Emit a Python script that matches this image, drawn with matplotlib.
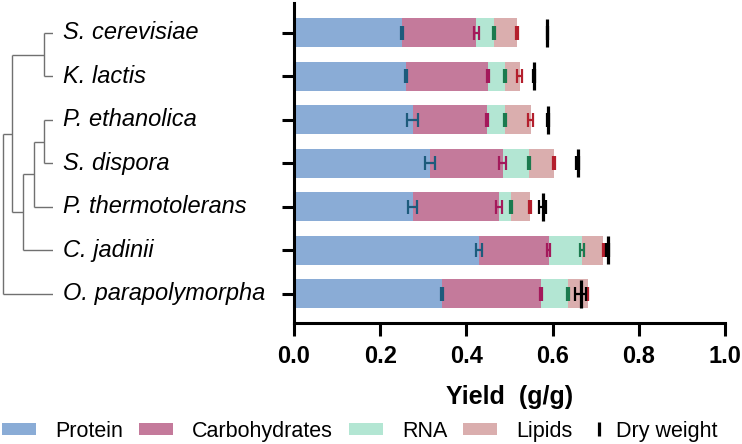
import matplotlib
matplotlib.use("Agg")
import matplotlib.pyplot as plt
import matplotlib.transforms as mtransforms
from matplotlib.patches import Patch
from matplotlib.lines import Line2D
import numpy as np

plt.rcParams['font.family'] = ['Liberation Sans', 'DejaVu Sans']

# ---------------- data ----------------
species = ["S. cerevisiae", "K. lactis", "P. ethanolica", "S. dispora",
           "P. thermotolerans", "C. jadinii", "O. parapolymorpha"]
protein = [0.251, 0.260, 0.275, 0.316, 0.275, 0.429, 0.343]
carbs   = [0.172, 0.190, 0.173, 0.168, 0.201, 0.162, 0.230]
rna     = [0.041, 0.040, 0.041, 0.062, 0.027, 0.077, 0.062]
lipids  = [0.053, 0.034, 0.060, 0.058, 0.045, 0.050, 0.046]
dry_weight = [0.588, 0.557, 0.590, 0.658, 0.577, 0.728, 0.665]

protein_err = [0.002, 0.002, 0.013, 0.012, 0.010, 0.007, 0.002]
carbs_err   = [0.006, 0.002, 0.002, 0.008, 0.0065, 0.003, 0.002]
rna_err     = [0.002, 0.002, 0.002, 0.002, 0.002, 0.004, 0.002]
lipids_err  = [0.002, 0.006, 0.005, 0.002, 0.002, 0.002, 0.002]
dry_err     = [0.002, 0.003, 0.002, 0.003, 0.008, 0.004, 0.013]

# dendrogram merges: (child a, child b, height); leaves 0..6, new clusters 7..
merges = [(0, 1, 0.17), (2, 3, 0.17), (8, 4, 0.36), (9, 5, 0.57),
          (7, 10, 0.77), (11, 6, 0.95)]

components = ["Protein", "Carbohydrates", "RNA", "Lipids"]
colors = ["#8AACD6", "#C47A9B", "#B3E6D3", "#DAAEAE"]
err_colors = ["#1D5B7C", "#A3195B", "#1B7A4E", "#B41F2D"]

# ---------------- figure ----------------
W, H = 742, 444
fig = plt.figure(figsize=(W / 100, H / 100), dpi=100)

ax_l, ax_r, ax_t, ax_b = 294, 725, 3, 323
ax = fig.add_axes([ax_l / W, 1 - ax_b / H, (ax_r - ax_l) / W, (ax_b - ax_t) / H])

y = np.arange(len(species))
left = np.zeros(len(species))
series = [protein, carbs, rna, lipids]
errs = [protein_err, carbs_err, rna_err, lipids_err]
for vals, col in zip(series, colors):
    ax.barh(y, vals, left=left, height=0.667, color=col, zorder=2)
    left = left + np.array(vals)

left = np.zeros(len(species))
for vals, e, ec in zip(series, errs, err_colors):
    left = left + np.array(vals)
    ax.errorbar(left, y, xerr=e, fmt='none', ecolor=ec, capsize=4.7,
                elinewidth=1.6, capthick=1.6, zorder=3)

ax.errorbar(dry_weight, y, xerr=dry_err, fmt='none', ecolor='black', capsize=4.7,
            elinewidth=1.6, capthick=1.6, zorder=4)
ax.plot(dry_weight, y, ls='none', marker='|', ms=20, mew=2.3, color='black', zorder=5)

ax.set_xlim(0, 1.0)
ax.set_ylim(6.67, -0.69)
ax.set_xticks([0.0, 0.2, 0.4, 0.6, 0.8, 1.0])
ax.set_xticklabels(["0.0", "0.2", "0.4", "0.6", "0.8", "1.0"],
                   fontsize=17, fontweight='bold')
ax.set_yticks(y)
ax.set_yticklabels([])
for s in ['top', 'right']:
    ax.spines[s].set_visible(False)
for s in ['left', 'bottom']:
    ax.spines[s].set_linewidth(2.2)
ax.tick_params(axis='both', length=9, width=2.2, pad=7)

ax.set_xlabel("Yield  (g/g)", fontsize=18, fontweight='bold')
ax.xaxis.set_label_coords(0.5, (ax_b - 397) / (ax_b - ax_t))
ax.xaxis.label.set_va('center')

# ---------------- dendrogram ----------------
leaf_px = 53
dax = fig.add_axes([0, 1 - ax_b / H, leaf_px / W, (ax_b - ax_t) / H])
dax.set_xlim(1.0, 0.0)
dax.set_ylim(6.67, -0.69)
dax.axis('off')
pos = {i: (float(i), 0.0) for i in range(len(species))}
nid = len(species)
for a, b, h in merges:
    ya, ha = pos[a]
    yb, hb = pos[b]
    lc = "#707070"
    dax.plot([ha, h], [ya, ya], color=lc, lw=1.0, solid_capstyle='butt')
    dax.plot([hb, h], [yb, yb], color=lc, lw=1.0, solid_capstyle='butt')
    dax.plot([h, h], [ya, yb], color=lc, lw=1.0, solid_capstyle='butt')
    pos[nid] = ((ya + yb) / 2, h)
    nid += 1

trans = mtransforms.blended_transform_factory(fig.transFigure, ax.transData)
for i, name in enumerate(species):
    fig.text(63 / W, i, name, transform=trans, ha='left', va='center',
             fontsize=17, fontstyle='italic')

# ---------------- legend ----------------
handles = [Patch(facecolor=c, edgecolor='none') for c in colors]
fig.legend(handles, components, loc='center left', bbox_to_anchor=(2 / W, 1 - 431 / H),
           ncol=4, frameon=False, fontsize=15.5, handlelength=1.6, handleheight=0.51,
           handletextpad=0.88, columnspacing=0.72, borderpad=0, borderaxespad=0)
dry_handle = Line2D([], [], ls='none', marker='|', ms=9.5, mew=2.3, color='black')
fig.legend([dry_handle], ["Dry weight"], loc='center left',
           bbox_to_anchor=(593 / W, 1 - 431 / H), frameon=False, fontsize=15.5,
           handlelength=0.56, handletextpad=0.51, borderpad=0, borderaxespad=0)

fig.savefig("out.png", dpi=100)
